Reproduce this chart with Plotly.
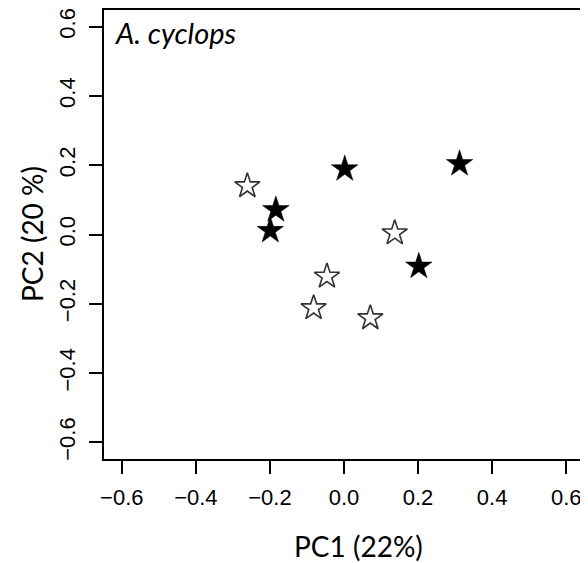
import plotly.graph_objects as go

# Data
open_x = [-0.261, 0.137, -0.046, -0.082, 0.071]
open_y = [0.140, 0.004, -0.121, -0.212, -0.241]
filled_x = [0.002, 0.312, -0.184, -0.199, 0.202]
filled_y = [0.189, 0.204, 0.071, 0.011, -0.092]
tick_vals = [-0.6, -0.4, -0.2, 0.0, 0.2, 0.4, 0.6]
tick_text = ["\u22120.6", "\u22120.4", "\u22120.2", "0.0", "0.2", "0.4", "0.6"]

fig = go.Figure()
fig.add_trace(go.Scatter(x=open_x, y=open_y, mode="markers",
                         marker=dict(symbol="star-open", size=19, color="#333333",
                                     line=dict(width=1.6, color="#333333")),
                         showlegend=False))
fig.add_trace(go.Scatter(x=filled_x, y=filled_y, mode="markers",
                         marker=dict(symbol="star", size=20, color="black",
                                     line=dict(width=0.5, color="black")),
                         showlegend=False))

axis_common = dict(range=[-0.648, 0.648], tickvals=tick_vals, ticktext=tick_text,
                   ticks="outside", ticklen=13, tickwidth=2, tickcolor="black",
                   showline=True, linewidth=2, linecolor="black", mirror=True,
                   showgrid=False, zeroline=False,
                   tickfont=dict(family="Liberation Sans, Arial", size=22, color="black"))

title_font = dict(family="Lato, Open Sans", size=28, color="black")

fig.update_layout(
    width=580, height=555,
    margin=dict(l=95.5, r=4, t=2, b=103.7, autoexpand=False),
    paper_bgcolor="white", plot_bgcolor="white",
    xaxis=dict(**axis_common, ticklabelstandoff=5),
    yaxis=dict(**axis_common, tickangle=-90, ticklabelstandoff=5),
    annotations=[
        dict(text="<i>A. cyclops</i>", xref="paper", yref="paper",
             x=0.018, y=0.951, xanchor="left", yanchor="middle", showarrow=False,
             font=dict(family="Lato, Open Sans", size=29, color="black")),
        dict(text="PC1 (22%)", xref="paper", yref="paper",
             x=0.5297, y=-0.193, xanchor="center", yanchor="middle", showarrow=False,
             font=title_font),
        dict(text="PC2 (20 %)", xref="paper", yref="paper", textangle=-90,
             x=-0.151, y=0.5, xanchor="center", yanchor="middle", showarrow=False,
             font=title_font),
    ],
)

fig.write_html("out.html")
